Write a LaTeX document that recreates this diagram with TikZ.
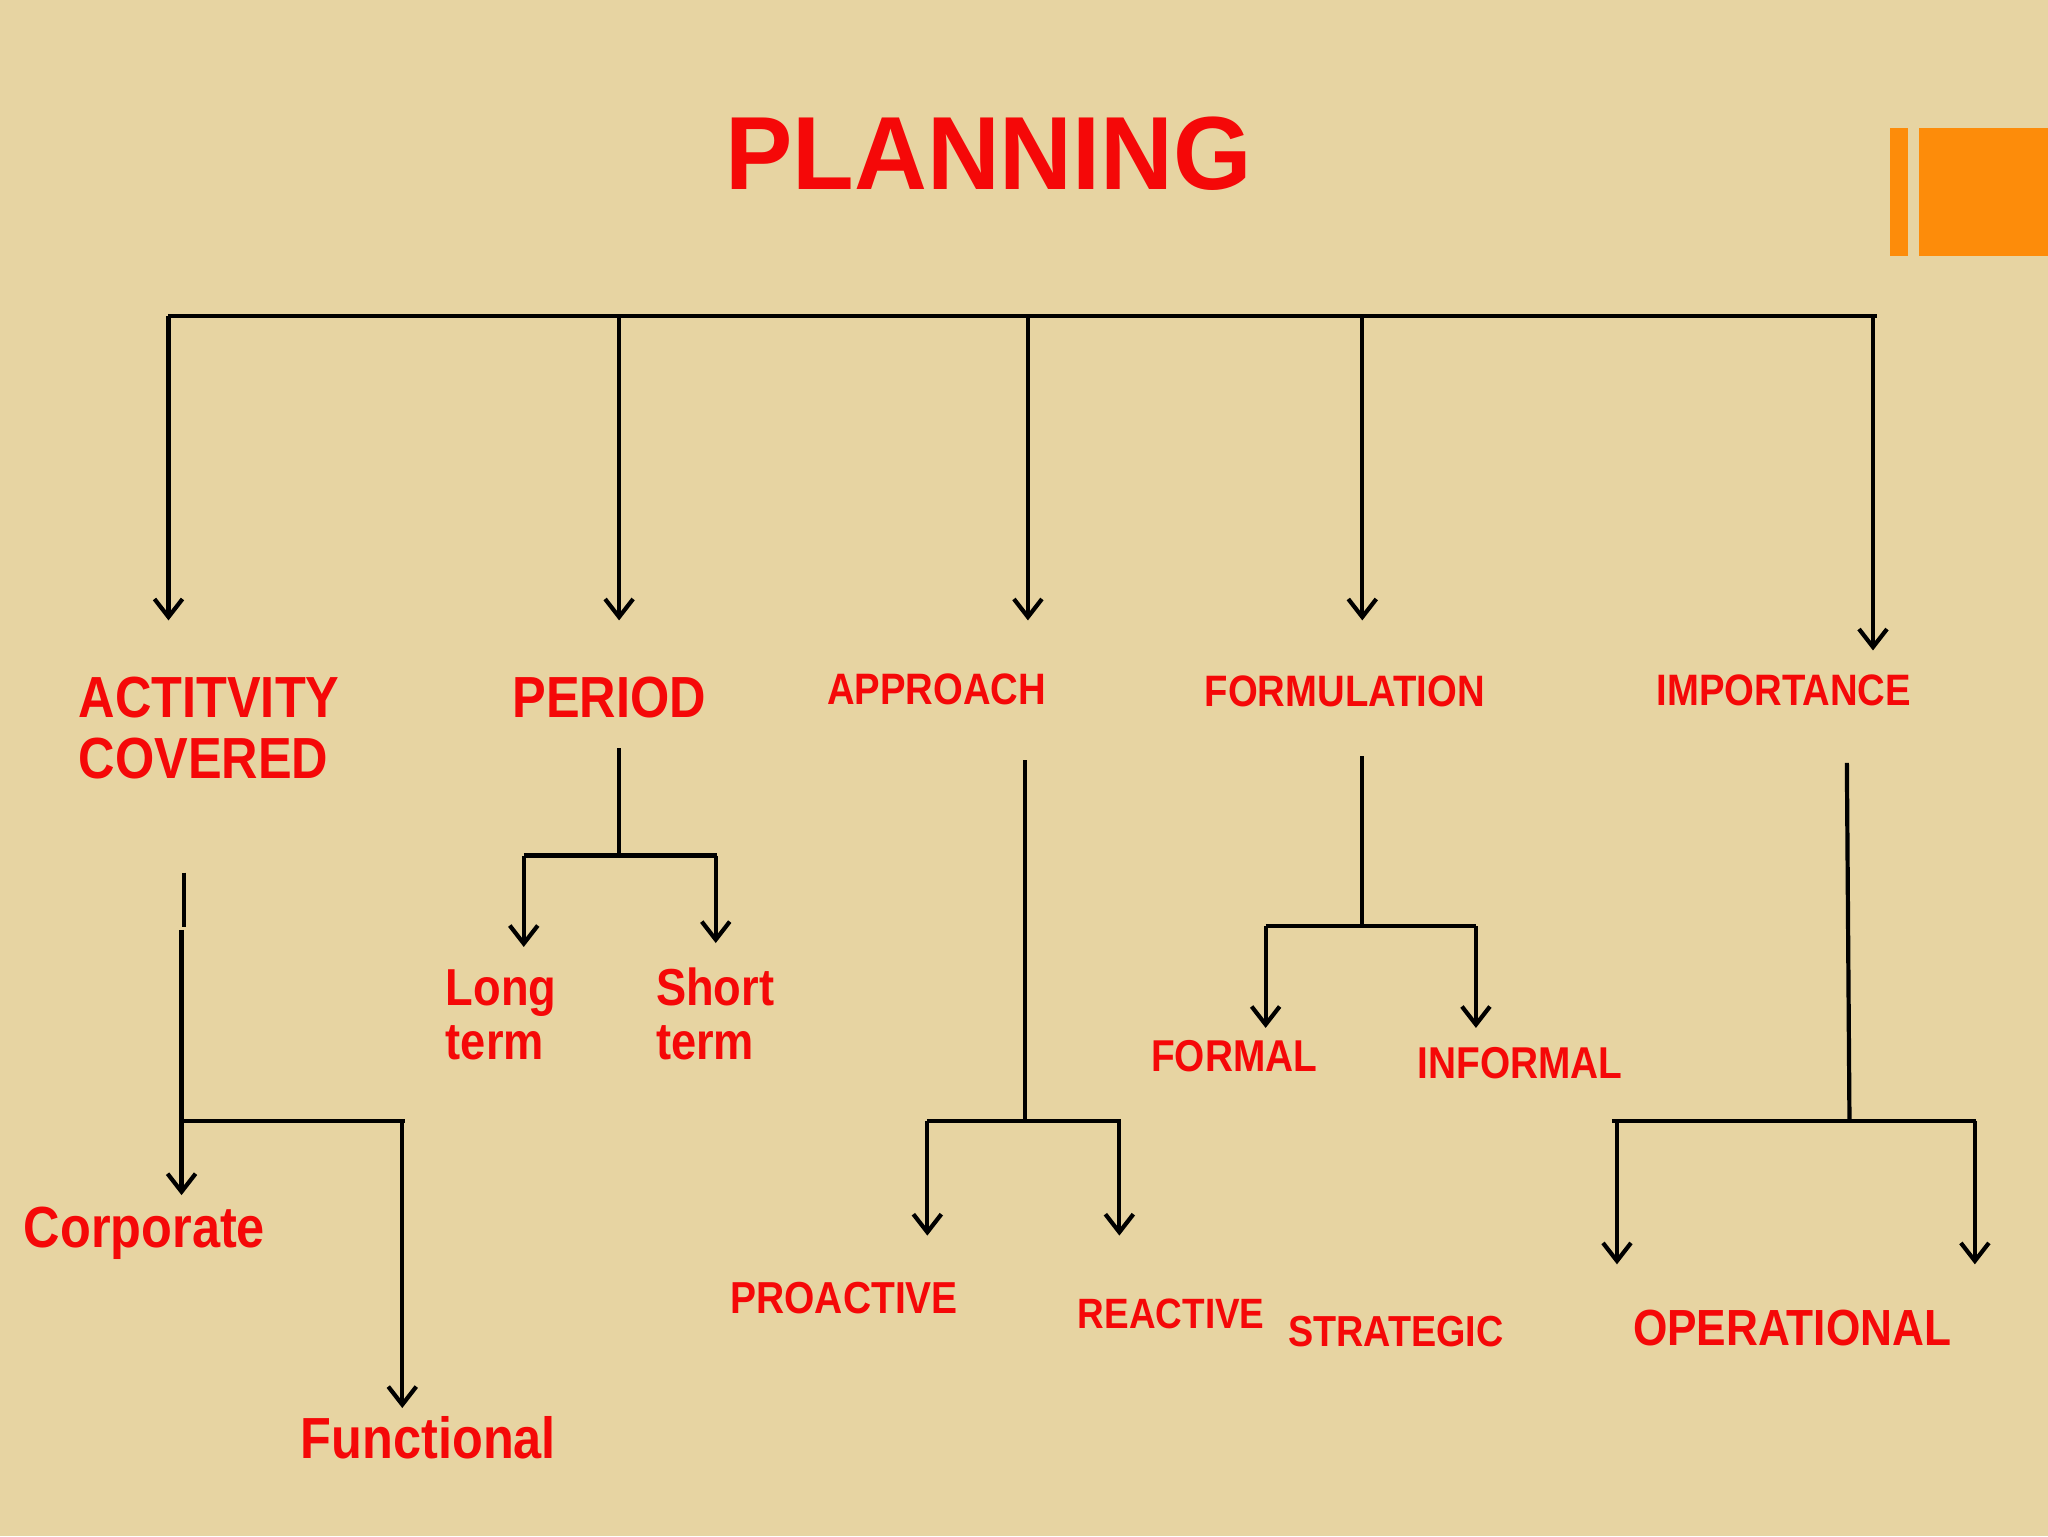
\documentclass[tikz,border=0pt]{standalone}
\usepackage{fontspec}
\setmainfont{Liberation Sans}
\newfontfamily\lblfont{Liberation Sans}[FakeStretch=0.87]
\newfontfamily\ttlfont{Liberation Sans}[FakeStretch=0.97]
\usetikzlibrary{arrows.meta}
\definecolor{papyrus}{RGB}{231,212,162}
\definecolor{lblred}{RGB}{245,8,8}
\definecolor{tabor}{RGB}{253,140,10}
\tikzset{
  lbl/.style={text=lblred, inner sep=0pt, anchor=base west, align=left},
  wire/.style={black, line width=2.1pt},
  drop/.style={wire, -{Straight Barb[length=9pt,width=14pt]}}
}
\newcommand\lblsize[2]{\lblfont\bfseries\fontsize{#1}{#2}\selectfont}
\begin{document}
\begin{tikzpicture}[x=0.65306pt, y=-0.65306pt]
\fill[papyrus] (0,0) rectangle (1568,1176);
\useasboundingbox (0,0) rectangle (1568,1176);
% corner tab
\fill[tabor] (1447,98) rectangle (1461,196);
\fill[tabor] (1469,98) rectangle (1568,196);

\node[lbl, font=\ttlfont\bfseries\fontsize{52}{52}\selectfont] (title) at (555,145) {PLANNING};

% top bus
\coordinate (busL) at (129,242);
\coordinate (busR) at (1437,242);
\draw[wire] (busL) -- (busR);
\foreach \n/\x/\t in {act/129/475, per/474/475, app/787/475, frm/1043/475, imp/1434/498} {
  \coordinate (top-\n) at (\x,242);
  \coordinate (tip-\n) at (\x,\t);
  \draw[drop] (top-\n) -- (tip-\n);
}

% main headings
\node[lbl, font=\lblsize{29}{30.7pt}] (act) at (60,596) {ACTITVITY\\COVERED};
\node[lbl, font=\lblsize{29}{29}] (per) at (392,549) {PERIOD};
\node[lbl, font=\lblsize{22}{22}] (app) at (633,539) {APPROACH};
\node[lbl, font=\lblsize{22}{22}] (frm) at (922,541) {FORMULATION};
\node[lbl, font=\lblsize{22}{22}] (imp) at (1268,540) {IMPORTANCE};

% activity covered
\coordinate (act-a) at (141,668);
\coordinate (act-b) at (141,710);
\coordinate (act-c) at (139,712);
\coordinate (act-j) at (139,858);
\coordinate (act-r) at (308,858);
\draw[wire] (act-a) -- (act-b);
\draw[drop] (act-c) -- (139,915) coordinate (act-t1);
\draw[wire] (act-j) -- (310,858);
\draw[drop] (act-r) -- (308,1078) coordinate (act-t2);
\node[lbl, font=\lblsize{29}{29}] (corp) at (18,955) {Corporate};
\node[lbl, font=\lblsize{29}{29}] (func) at (230,1117) {Functional};

% period
\coordinate (per-a) at (474,573);
\coordinate (per-j) at (474,655);
\coordinate (per-l) at (401,655);
\coordinate (per-r) at (549,655);
\draw[wire] (per-a) -- (per-j);
\draw[wire] (per-l) -- (per-r);
\draw[drop] (per-l) -- (401,725) coordinate (per-t1);
\draw[drop] (548,655) -- (548,722) coordinate (per-t2);
\node[lbl, font=\lblsize{26}{26.8pt}] (long) at (341,811) {Long\\term};
\node[lbl, font=\lblsize{26}{26.8pt}] (short) at (502,811) {Short\\term};

% approach
\coordinate (app-a) at (785,582);
\coordinate (app-j) at (785,858);
\coordinate (app-l) at (710,858);
\coordinate (app-r) at (858,858);
\draw[wire] (app-a) -- (app-j);
\draw[wire] (app-l) -- (app-r);
\draw[drop] (app-l) -- (710,946) coordinate (app-t1);
\draw[drop] (857,858) -- (857,946) coordinate (app-t2);
\node[lbl, font=\lblsize{22.4}{22}] (pro) at (559,1006) {PROACTIVE};
\node[lbl, font=\lblsize{21.2}{22}] (rea) at (825,1017) {REACTIVE};
\node[lbl, font=\lblsize{21.7}{22}] (str) at (986,1031) {STRATEGIC};

% formulation
\coordinate (frm-a) at (1043,579);
\coordinate (frm-j) at (1043,709);
\coordinate (frm-l) at (969,709);
\coordinate (frm-r) at (1130,709);
\draw[wire] (frm-a) -- (frm-j);
\draw[wire] (frm-l) -- (frm-r);
\draw[drop] (frm-l) -- (969,787) coordinate (frm-t1);
\draw[drop] (frm-r) -- (1130,787) coordinate (frm-t2);
\node[lbl, font=\lblsize{22.3}{22}] (form) at (881,820) {FORMAL};
\node[lbl, font=\lblsize{22.3}{22}] (inf) at (1085,826) {INFORMAL};

% importance
\coordinate (imp-a) at (1414,584);
\coordinate (imp-j) at (1416,858);
\coordinate (imp-l) at (1234,858);
\coordinate (imp-r) at (1513,858);
\draw[wire] (imp-a) -- (imp-j);
\draw[wire] (imp-l) -- (imp-r);
\draw[drop] (1238,858) -- (1238,968) coordinate (imp-t1);
\draw[drop] (1512,858) -- (1512,968) coordinate (imp-t2);
\node[lbl, font=\lblsize{25.4}{26}] (ope) at (1250,1030) {OPERATIONAL};
\end{tikzpicture}
\end{document}
